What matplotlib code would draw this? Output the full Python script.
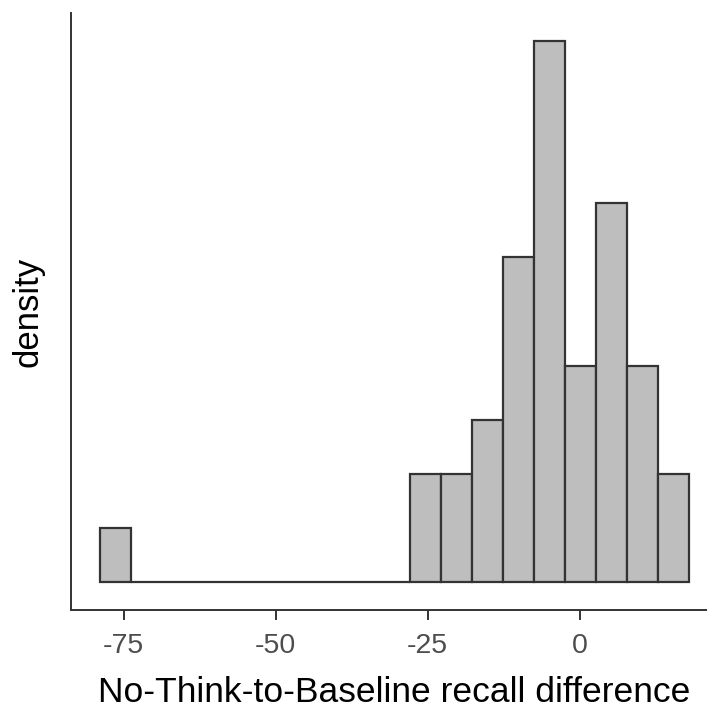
import numpy as np
import matplotlib
matplotlib.use("Agg")
import matplotlib.pyplot as plt

plt.rcParams['font.family'] = ['Liberation Sans', 'DejaVu Sans']

# histogram bins (left edge, width) and counts per bin
bin_start = -78.83
bin_width = 5.093
counts = [1, 0, 0, 0, 0, 0, 0, 0, 0, 0, 2, 2, 3, 6, 10, 4, 7, 4, 2]
x_ticks = [-75, -50, -25, 0]

edges = bin_start + bin_width * np.arange(len(counts) + 1)
centers = (edges[:-1] + edges[1:]) / 2
density = np.array(counts) / (sum(counts) * bin_width)

fig = plt.figure(figsize=(7.07, 7.08), dpi=100)
ax = fig.add_axes([71 / 707, 98.5 / 708, 647 / 707, 596 / 708])

ax.hist(centers, bins=edges, weights=density, color='#BEBEBE',
        edgecolor='#333333', linewidth=1.6)

span = edges[-1] - edges[0]
ax.set_xlim(edges[0] - 0.05 * span, edges[-1] + 0.05 * span)
ax.set_ylim(-0.05 * density.max(), 1.05 * density.max())

ax.set_xticks(x_ticks)
ax.set_xticklabels([str(t) for t in x_ticks])
ax.set_yticks([])

for side in ['top', 'right']:
    ax.spines[side].set_visible(False)
for side in ['left', 'bottom']:
    ax.spines[side].set_color('#333333')
    ax.spines[side].set_linewidth(1.4)

ax.tick_params(axis='x', length=7, width=1.4, color='#333333',
               labelsize=20.5, labelcolor='#4D4D4D', pad=10)

ax.set_xlabel('No-Think-to-Baseline recall difference', fontsize=25.5,
              color='black', labelpad=12)
ax.set_ylabel('density', fontsize=25, color='black', labelpad=19)

fig.savefig('out.png', dpi=100)
